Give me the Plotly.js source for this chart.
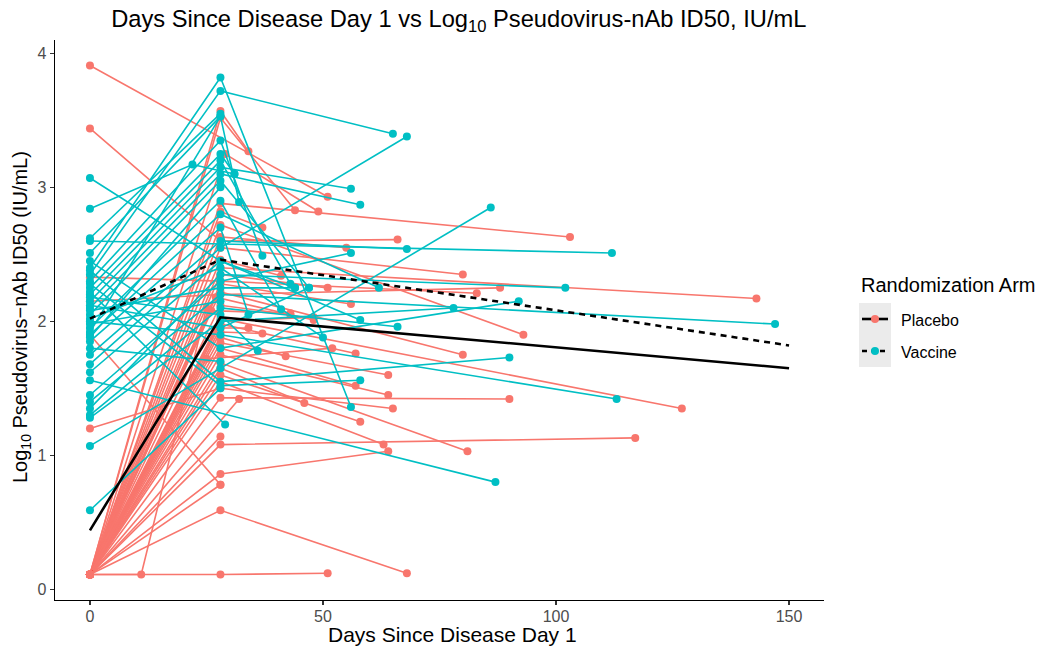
<!DOCTYPE html>
<html>
<head>
<meta charset="utf-8">
<script src="https://cdn.plot.ly/plotly-3.0.1.min.js"></script>
<style>html,body{margin:0;padding:0;background:#fff;}#chart{width:1038px;height:646px;}</style>
</head>
<body>
<div id="chart"></div>
<script>
// ---- Placebo subjects: value at day 0, second visit (day, value), third visit (day, value)
const plaDay0 = [3.91,3.44,2.33,2.15,1.20,1.90,0.11,0.11,0.11,0.11,0.11,0.11,0.11,0.11,0.11,0.11,0.11,0.11,0.11,0.11,0.11,0.11,0.11,0.11,0.11,0.11,0.11,0.11,0.11,0.11,0.11,0.11,0.11,0.11,0.11,0.11,0.11,0.11,0.11,0.11,0.11,0.11,0.11,0.11,0.11];
const plaT2   = [51,28,28,28,28,28,28,28,29,28,28,28,28,28,28,28,28,28,28,27,28,26,28,28,28,28,28,28,28,28,28,28,28,28,28,32,28,28,28,28,28,28,11,28,25];
const plaV2   = [2.93,2.60,2.30,2.20,1.50,0.78,3.57,3.52,3.25,2.88,2.82,2.72,2.63,2.55,2.46,2.40,2.35,2.28,2.22,2.18,2.12,2.08,2.02,1.98,1.95,1.92,1.88,1.84,1.80,1.75,1.69,1.65,1.60,1.55,1.43,1.42,1.14,1.08,0.86,0.78,0.59,0.11,0.11,2.00,1.72];
const plaT3   = [null,66,83,88,65,null,34,44,49,103,37,93,55,80,41,143,51,56,80,48,43,43,127,57,34,37,42,64,57,64,81,46,58,63,90,null,null,117,64,null,68,51,25,48,52];
const plaV3   = [null,2.61,2.21,2.25,1.35,null,3.27,2.83,2.82,2.63,2.70,1.90,2.55,2.35,2.34,2.17,2.25,2.13,1.75,2.01,2.05,2.06,1.35,1.76,1.95,1.91,1.74,1.60,1.52,1.45,1.03,1.39,1.25,1.08,1.42,null,null,1.13,1.03,null,0.12,0.12,2.10,2.03,1.80];

// ---- Vaccine subjects
const vacDay0 = [3.07,2.84,2.62,2.60,2.51,2.40,2.35,2.30,2.25,2.20,2.15,2.10,2.05,2.00,1.95,1.90,1.85,1.75,1.68,1.62,1.56,1.45,1.40,1.35,1.30,1.28,1.07,0.59,2.45,2.38,2.28,2.22,2.18,2.12,2.08,2.02,1.98,1.92,1.88,1.80];
const vacT2   = [28,22,28,112,28,28,28,28,28,28,28,28,28,28,28,28,28,28,28,28,87,28,28,28,28,28,28,28,28,28,28,29,28,28,28,28,28,28,28,28];
const vacV2   = [2.45,3.17,3.55,2.51,3.53,3.82,3.72,3.35,3.25,3.20,3.15,3.10,3.05,1.90,2.90,2.80,2.70,2.60,2.55,2.45,0.80,2.30,2.20,2.35,2.10,2.00,1.65,1.50,1.80,1.55,1.52,1.23,2.05,1.95,2.25,2.40,2.15,3.53,3.00,1.70];
const vacT3   = [44,31,null,null,32,56,65,37,31,43,56,58,47,113,41,62,34,68,68,58,null,56,147,102,66,78,86,null,92,90,58,null,36,47,44,50,null,null,null,null];
const vacV3   = [2.25,3.10,null,null,2.89,1.36,3.40,2.49,3.10,2.28,2.99,2.87,2.25,1.42,2.09,2.25,2.05,2.54,3.38,2.01,null,2.51,1.98,2.25,1.96,2.10,2.85,null,2.15,1.73,1.56,null,1.78,2.25,2.25,1.88,null,null,null,null];

// ---- Arm mean trajectories
const meanDays = [0, 28, 150];
const plaMean  = [0.44, 2.03, 1.65];
const vacMean  = [2.02, 2.46, 1.82];

const arms = ["Placebo", "Vaccine"];
const armColors = ["#F8766D", "#00BFC4"];

const xTicks = [0, 50, 100, 150];
const yTicks = [0, 1, 2, 3, 4];

function spaghetti(d0, t2, v2, t3, v3) {
  const x = [], y = [];
  for (let i = 0; i < d0.length; i++) {
    if (d0[i] !== null) { x.push(0); y.push(d0[i]); }
    if (t2[i] !== null) { x.push(t2[i]); y.push(v2[i]); }
    if (t3[i] !== null) { x.push(t3[i]); y.push(v3[i]); }
    x.push(null); y.push(null);
  }
  return {x, y};
}

const pla = spaghetti(plaDay0, plaT2, plaV2, plaT3, plaV3);
const vac = spaghetti(vacDay0, vacT2, vacV2, vacT3, vacV3);

const traces = [
  {x: pla.x, y: pla.y, type: "scatter", mode: "lines+markers", connectgaps: false,
   line: {color: armColors[0], width: 1.6}, marker: {color: armColors[0], size: 8}, showlegend: false, hoverinfo: "skip"},
  {x: vac.x, y: vac.y, type: "scatter", mode: "lines+markers", connectgaps: false,
   line: {color: armColors[1], width: 1.6}, marker: {color: armColors[1], size: 8}, showlegend: false, hoverinfo: "skip"},
  {x: meanDays, y: plaMean, type: "scatter", mode: "lines", line: {color: "#000", width: 2.6}, showlegend: false},
  {x: meanDays, y: vacMean, type: "scatter", mode: "lines", line: {color: "#000", width: 2.6, dash: "6px,5px"}, showlegend: false}
];

// plot area in pixels
const L = 55, R = 824, T = 40, B = 600;
const px = v => (v - L) / (R - L);
const py = v => (B - v) / (B - T);

const shapes = [
  {type: "rect", xref: "paper", yref: "paper", x0: px(859), x1: px(891), y0: py(367), y1: py(303), fillcolor: "#EBEBEB", line: {width: 0}, layer: "above"},
  {type: "line", xref: "paper", yref: "paper", x0: px(862), x1: px(888), y0: py(319), y1: py(319), line: {color: "#000", width: 2.6}},
  {type: "line", xref: "paper", yref: "paper", x0: px(862), x1: px(888), y0: py(351), y1: py(351), line: {color: "#000", width: 2.6, dash: "5px,4px"}},
  {type: "circle", xref: "paper", yref: "paper", xsizemode: "pixel", ysizemode: "pixel", xanchor: px(875), yanchor: py(319), x0: -4, x1: 4, y0: -4, y1: 4, fillcolor: armColors[0], line: {width: 0}},
  {type: "circle", xref: "paper", yref: "paper", xsizemode: "pixel", ysizemode: "pixel", xanchor: px(875), yanchor: py(351), x0: -4, x1: 4, y0: -4, y1: 4, fillcolor: armColors[1], line: {width: 0}}
];

const font = "Liberation Sans, Arial, sans-serif";
const annotations = [
  {text: "Randomization Arm", xref: "paper", yref: "paper", x: px(859), y: py(285), xanchor: "left", yanchor: "middle", showarrow: false, font: {family: font, size: 20, color: "#000"}},
  {text: arms[0], xref: "paper", yref: "paper", x: px(899), y: py(320), xanchor: "left", yanchor: "middle", showarrow: false, font: {family: font, size: 16, color: "#000"}},
  {text: arms[1], xref: "paper", yref: "paper", x: px(899), y: py(352), xanchor: "left", yanchor: "middle", showarrow: false, font: {family: font, size: 16, color: "#000"}},
  {text: "Days Since Disease Day 1", xref: "paper", yref: "paper", x: px(452), y: py(634), xanchor: "center", yanchor: "middle", showarrow: false, font: {family: font, size: 21, color: "#000"}},
  {text: "Log<sub>10</sub> Pseudovirus\u2212nAb ID50 (IU/mL)", xref: "paper", yref: "paper", x: px(21), y: py(317), xanchor: "center", yanchor: "middle", textangle: -90, showarrow: false, font: {family: font, size: 20, color: "#000"}}
];

const layout = {
  width: 1038, height: 646,
  margin: {l: L, r: 1038 - R, t: T, b: 646 - B},
  paper_bgcolor: "#fff", plot_bgcolor: "#fff",
  font: {family: font},
  title: {text: "Days Since Disease Day 1 vs Log<sub>10</sub> Pseudovirus-nAb ID50, IU/mL",
          x: 0.442, xanchor: "center", y: 1 - 19/646, yanchor: "middle",
          font: {family: font, size: 23.7, color: "#000"}},
  xaxis: {range: [-7.5, 157.5], tickvals: xTicks, ticktext: xTicks.map(String), showgrid: false, zeroline: false,
          showline: true, linecolor: "#000", linewidth: 1.3, ticks: "outside", ticklen: 4, tickcolor: "#333", tickwidth: 1.1,
          ticklabelstandoff: -3,
          tickfont: {family: font, size: 16, color: "#4D4D4D"}},
  yaxis: {range: [-0.08, 4.1], tickvals: yTicks, ticktext: yTicks.map(String), showgrid: false, zeroline: false,
          showline: true, linecolor: "#000", linewidth: 1.3, ticks: "outside", ticklen: 4, tickcolor: "#333", tickwidth: 1.1,
          tickfont: {family: font, size: 16, color: "#4D4D4D"}},
  shapes, annotations, showlegend: false
};

Plotly.newPlot("chart", traces, layout, {displayModeBar: false, staticPlot: true});
</script>
</body>
</html>
